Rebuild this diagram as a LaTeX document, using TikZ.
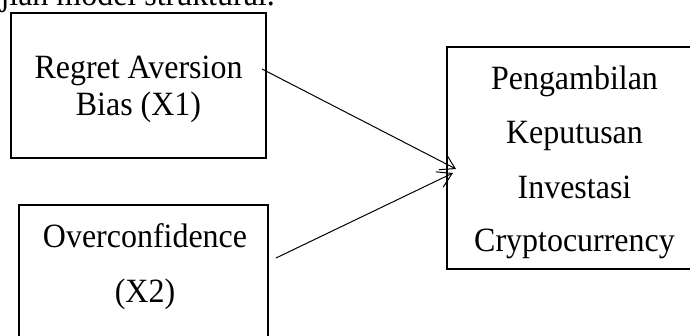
\documentclass[tikz,border=0pt]{standalone}
\usepackage{fontspec}
\setmainfont{Liberation Serif}[FakeStretch=0.94]
\usetikzlibrary{arrows.meta}
\begin{document}
\begin{tikzpicture}[x=1pt,y=-1pt,
  box/.style={draw, line width=1.8pt, inner sep=0pt},
  lbl/.style={font=\fontsize{34}{40}\selectfont, anchor=base, inner sep=0pt},
  link/.style={line width=1pt, -{Straight Barb[length=14pt,width=17pt,line width=1pt]}}]
\useasboundingbox (0,0) rectangle (690,335);
\clip (0,0) rectangle (690,335);
% caption fragment
\node[lbl, anchor=base east] (cap) at (275,5.7) {jian model struktural.};
% boxes
\node[box, minimum width=255pt, minimum height=145pt] (b1) at (138.5,85.5) {};
\node[box, minimum width=249pt, minimum height=145pt] (b2) at (143.5,277.5) {};
\node[box, minimum width=255pt, minimum height=222pt] (b3) at (574.5,158) {};
% texts
\node[lbl] (t1a) at (138.5,78) {Regret Aversion};
\node[lbl] (t1b) at (138.5,115) {Bias (X1)};
\node[lbl] (t2a) at (145,247) {Overconfidence};
\node[lbl] (t2b) at (145,302) {(X2)};
\node[lbl] (t3a) at (574.5,89) {Pengambilan};
\node[lbl] (t3b) at (574.5,143) {Keputusan};
\node[lbl] (t3c) at (574.5,198) {Investasi};
\node[lbl] (t3d) at (574.5,251) {Cryptocurrency};
% connectors
\coordinate (s1) at (262,69);
\coordinate (e1) at (456,169);
\coordinate (s2) at (276,258);
\coordinate (e2) at (453,173);
\draw[link] (s1) -- (e1);
\draw[link] (s2) -- (e2);
\end{tikzpicture}
\end{document}
